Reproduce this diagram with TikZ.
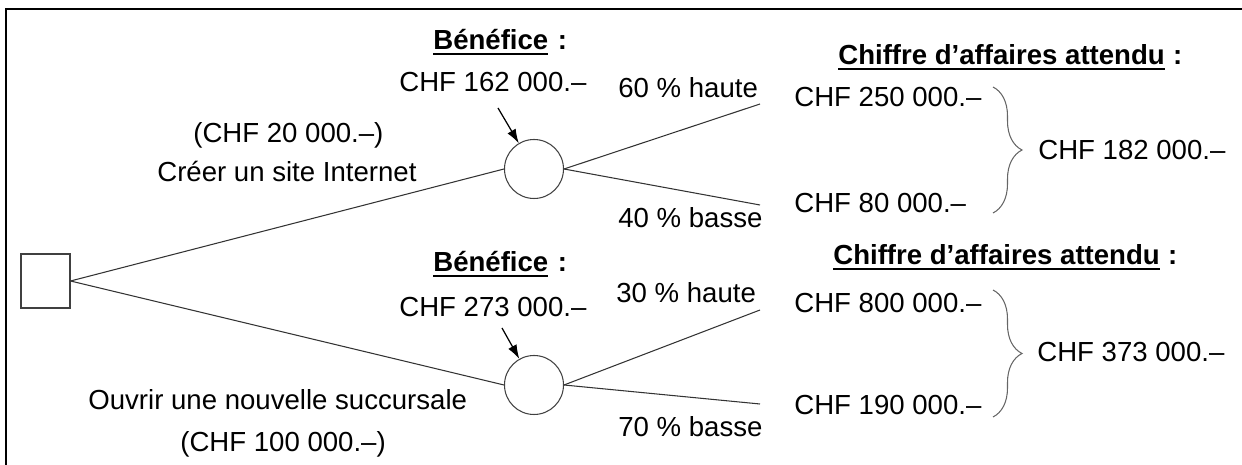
\documentclass[tikz,border=0pt]{standalone}
\usepackage{fontspec}
\setmainfont{Liberation Sans}
\usetikzlibrary{arrows.meta, decorations.pathreplacing}

\newcommand{\souligne}[1]{\setbox0\hbox{#1}\rlap{\rule[-2.8pt]{\wd0}{1.1pt}}\box0}

\begin{document}
\begin{tikzpicture}[x=0.02cm, y=-0.02cm,
  lbl/.style={inner sep=0pt, anchor=base west, font=\fontsize{15.7}{18}\selectfont},
  titre/.style={lbl, font=\fontsize{15.7}{18}\selectfont\bfseries},
  branch/.style={draw=black!80, line width=0.6pt},
  chance/.style={circle, draw=black!75, line width=0.6pt, minimum size=1.18cm, inner sep=0pt},
  decision/.style={rectangle, draw=black!75, line width=0.6pt, minimum width=0.98cm, minimum height=1.08cm, inner sep=0pt},
  pointer/.style={-{Latex[length=0.28cm, width=0.19cm]}, line width=0.7pt},
  accolade/.style={draw=black!60, line width=0.6pt, decorate, decoration={brace, amplitude=0.58cm}}]
\useasboundingbox (0,0) rectangle (1242,465);
\draw[line width=1.1pt] (1242,9) -- (6,9) -- (6,465);

% arbre
\node[decision] (dec) at (45.5,281) {};
\node[chance] (c1) at (534,169) {};
\node[chance] (c2) at (534,385) {};
\coordinate (h1) at (760,104);
\coordinate (b1) at (760,205);
\coordinate (h2) at (760,310);
\coordinate (b2) at (760,404);
\draw[branch] (dec.east) -- (c1.west);
\draw[branch] (dec.east) -- (c2.west);
\draw[branch] (c1.east) -- (h1);
\draw[branch] (c1.east) -- (b1);
\draw[branch] (c2.east) -- (h2);
\draw[branch] (c2.east) -- (b2);

% options
\node[lbl] (cost1) at (193,143) {(CHF 20 000.–)};
\node[lbl] (opt1) at (157,182) {Créer un site Internet};
\node[lbl] (opt2) at (88,410) {Ouvrir une nouvelle succursale};
\node[lbl] (cost2) at (180,452) {(CHF 100 000.–)};

% benefices
\node[titre] (ben1) at (433,50) {\souligne{Bénéfice}\hspace{0.35em}:};
\node[lbl] (v1) at (399,92) {CHF 162 000.–};
\node[titre] (ben2) at (433,272) {\souligne{Bénéfice}\hspace{0.35em}:};
\node[lbl] (v2) at (399,317) {CHF 273 000.–};
\coordinate (a1) at (498,108);
\coordinate (a2) at (502,328);
\draw[pointer] (a1) -- (c1);
\draw[pointer] (a2) -- (c2);

% probabilites
\node[lbl] (ph1) at (618,98) {60 \% haute};
\node[lbl] (pb1) at (618,228) {40 \% basse};
\node[lbl] (ph2) at (616,303) {30 \% haute};
\node[lbl] (pb2) at (618,437) {70 \% basse};

% chiffres d'affaires
\node[titre] (ca1) at (838,65) {\souligne{Chiffre d’affaires attendu}\hspace{0.3em}:};
\node[lbl] (r1) at (794,107) {CHF 250 000.–};
\node[lbl] (r2) at (794,213) {CHF 80 000.–};
\node[lbl] (e1) at (1038,160) {CHF 182 000.–};
\node[titre] (ca2) at (833,265) {\souligne{Chiffre d’affaires attendu}\hspace{0.3em}:};
\node[lbl] (r3) at (794,313) {CHF 800 000.–};
\node[lbl] (r4) at (794,415) {CHF 190 000.–};
\node[lbl] (e2) at (1037,362) {CHF 373 000.–};
\coordinate (t1) at (993,87);
\coordinate (u1) at (993,213);
\coordinate (t2) at (993,290);
\coordinate (u2) at (993,417);
\draw[accolade] (t1) -- (u1);
\draw[accolade] (t2) -- (u2);
\end{tikzpicture}
\end{document}
